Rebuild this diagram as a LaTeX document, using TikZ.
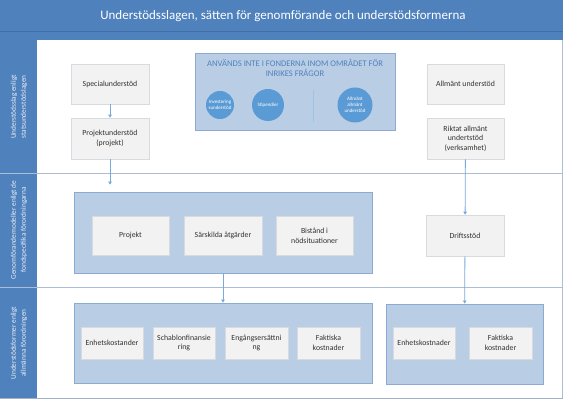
\documentclass[tikz,border=0pt]{standalone}
\usepackage{fontspec}
\setmainfont{Carlito}
\usetikzlibrary{arrows.meta}
\definecolor{band}{RGB}{79,129,189}
\definecolor{bandline}{RGB}{64,110,165}
\definecolor{panelbox}{RGB}{185,205,229}
\definecolor{panelborder}{RGB}{140,170,210}
\definecolor{ibfill}{RGB}{242,242,242}
\definecolor{ibborder}{RGB}{215,218,222}
\definecolor{circ}{RGB}{91,155,213}
\definecolor{conn}{RGB}{120,170,220}
\definecolor{sep}{RGB}{170,190,215}
\definecolor{txt}{RGB}{50,50,50}
\tikzset{
  ibox/.style={draw=ibborder, fill=ibfill, line width=0.6pt, font=\fontsize{7.8}{9.6}\selectfont, text=txt, align=center, inner sep=1pt},
  pbox/.style={draw=panelborder, fill=panelbox, line width=0.8pt, inner sep=0pt},
  cbox/.style={circle, fill=circ, draw=none, text=white, font=\fontsize{5}{6}\selectfont, align=center, inner sep=0pt},
  rowlabel/.style={rotate=90, text=white!88!band, font=\fontsize{7.3}{10}\selectfont, align=center},
  conn/.style={draw=conn, line width=0.8pt, -{Triangle[width=3.5pt,length=3pt]}},
}
\begin{document}
\begin{tikzpicture}[x=1pt,y=-1pt]
\useasboundingbox (0,0) rectangle (566,403);
% background bands
\fill[band] (0,0) rectangle (563,40);
\draw[bandline, line width=0.6pt] (0,31) -- (563,31);
\fill[band] (0,40) rectangle (37,398);
\fill[white] (37,40) rectangle (562,398);
\draw[sep, line width=1pt] (562,40) -- (562,398);
\draw[sep!80!gray, line width=1.2pt] (0,398.5) -- (563,398.5);
\draw[sep, line width=0.6pt] (0,173) -- (562,173);
\draw[sep, line width=0.6pt] (0,287) -- (562,287);
\node[text=white, font=\fontsize{13}{15}\selectfont] (title) at (283,16) {Understödsslagen, sätten för genomförande och understödsformerna};
% row labels
\node[rowlabel] (r1) at (19,107) {Understödsslag enligt\\statsunderstödslagen};
\node[rowlabel] (r2) at (19,230) {Genomförandemodeller enligt de\\fondspecifika förordningarna};
\node[rowlabel] (r3) at (19,343) {Understödsformer enligt\\allmänna förordningen};
% row 1
\node[ibox, minimum width=78pt, minimum height=40pt] (spec) at (110,84) {Specialunderstöd};
\node[ibox, minimum width=78pt, minimum height=41pt] (proj) at (110,138.5) {Projektunderstöd\\(projekt)};
\node[pbox, minimum width=200pt, minimum height=77pt] (mid) at (295,91.5) {};
\node[text=band, font=\fontsize{8.6}{10}\selectfont, align=center] (midt) at (295,68) {ANVÄNDS INTE I FONDERNA INOM OMRÅDET FÖR\\INRIKES FRÅGOR};
\node[cbox, minimum size=28pt] (c1) at (220,105) {Investering\\sunderstöd};
\node[cbox, minimum size=32pt] (c2) at (268,105) {Stipendier};
\node[cbox, minimum size=35pt] (c3) at (355,105) {Allmänt\\allmänt\\understöd};
\coordinate (vt) at (313,90);
\coordinate (vb) at (313,122);
\draw[circ!60, line width=0.8pt] (vt) -- (vb);
\node[ibox, minimum width=77pt, minimum height=40pt] (allm) at (465.5,84) {Allmänt understöd};
\node[ibox, minimum width=77pt, minimum height=41pt] (rikt) at (465.5,138.5) {Riktat allmänt\\undertstöd\\(verksamhet)};
% row 2
\node[pbox, minimum width=298pt, minimum height=81pt] (gm) at (223,232.5) {};
\node[ibox, minimum width=77pt, minimum height=39pt] (projekt) at (130.5,235.5) {Projekt};
\node[ibox, minimum width=78pt, minimum height=39pt] (sars) at (223,235.5) {Särskilda åtgärder};
\node[ibox, minimum width=77pt, minimum height=39pt] (bist) at (314.5,235.5) {Bistånd i\\nödsituationer};
\node[ibox, minimum width=78pt, minimum height=41pt] (drift) at (465,235.5) {Driftsstöd};
% row 3
\node[pbox, minimum width=298pt, minimum height=80pt] (uf1) at (223,343) {};
\node[ibox, minimum width=62pt, minimum height=32pt] (e1) at (112,343) {Enhetskostander};
\node[ibox, minimum width=62pt, minimum height=32pt] (s1) at (184,343) {Schablonfinansie\\ring};
\node[ibox, minimum width=63pt, minimum height=32pt] (g1) at (256.5,343) {Engångsersättni\\ng};
\node[ibox, minimum width=63pt, minimum height=32pt] (f1) at (328.5,343) {Faktiska\\kostnader};
\node[pbox, minimum width=157pt, minimum height=80pt] (uf2) at (464.5,344) {};
\node[ibox, minimum width=62pt, minimum height=32pt] (e2) at (424,343) {Enhetskostnader};
\node[ibox, minimum width=63pt, minimum height=32pt] (f2) at (500.5,343) {Faktiska\\kostnader};
% connectors
\draw[conn] (spec) -- (proj);
\draw[conn, shorten >=7pt] (proj.south) -- (proj.south |- gm.north);
\draw[conn] (rikt) -- (drift);
\draw[conn] (gm.south) -- (gm.south |- uf1.north);
\draw[conn] (drift) -- (uf2);
\end{tikzpicture}
\end{document}
